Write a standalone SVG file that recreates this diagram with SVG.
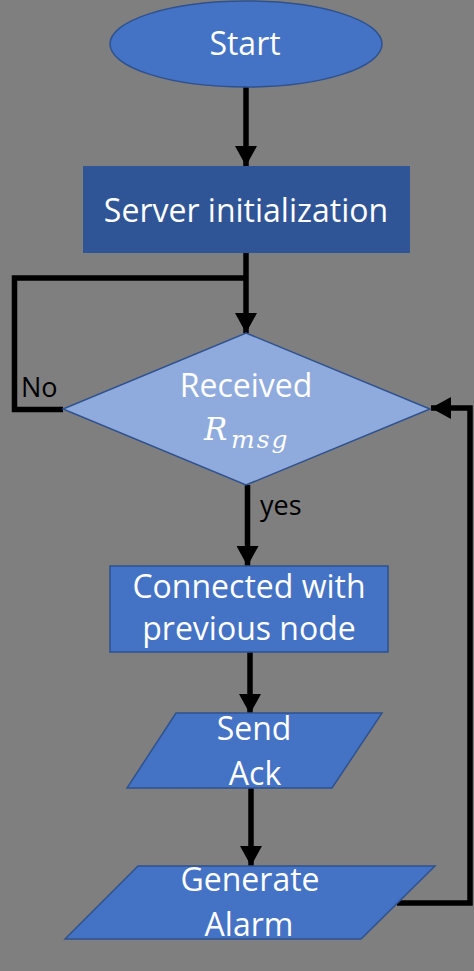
<svg xmlns="http://www.w3.org/2000/svg" width="474" height="971" viewBox="0 0 474 971">
<defs>
<style>
.bg{fill:#7f7f7f}
.node{stroke:#2f528f;stroke-width:1.5}
.lbl{font-family:"Open Sans","Liberation Sans",sans-serif;font-size:32px;fill:#ffffff;text-anchor:middle}
.edge{font-family:"Open Sans","Liberation Sans",sans-serif;font-size:27px;fill:#000000}
.math{font-family:"DejaVu Serif","Liberation Serif",serif;font-style:italic;fill:#ffffff}
.conn{fill:none;stroke:#000000;stroke-width:5.5}
</style>
<marker id="ah" markerUnits="userSpaceOnUse" markerWidth="22" markerHeight="22" refX="20" refY="11" orient="auto" viewBox="0 0 22 22">
<path d="M0,0 L20,11 L0,22 Z" fill="#000000"/>
</marker>
</defs>
<rect class="bg" x="0" y="0" width="474" height="971"/>
<g id="connectors">
<line class="conn" x1="246" y1="87" x2="246" y2="166" marker-end="url(#ah)"/>
<line class="conn" x1="246" y1="253" x2="246" y2="333" marker-end="url(#ah)"/>
<polyline class="conn" points="246,278 14.5,278 14.5,409.5 63,409.5"/>
<line class="conn" x1="247.5" y1="485" x2="247.5" y2="566" marker-end="url(#ah)"/>
<line class="conn" x1="250" y1="652" x2="250" y2="714" marker-end="url(#ah)"/>
<line class="conn" x1="251" y1="788" x2="251" y2="866" marker-end="url(#ah)"/>
<polyline class="conn" points="397,903 470,903 470,408 431,408" marker-end="url(#ah)"/>
</g>
<g id="start">
<ellipse class="node" cx="246" cy="44" rx="136" ry="43" fill="#4472c4"/>
<text class="lbl" x="245" y="55">Start</text>
</g>
<g id="server-init">
<rect x="83" y="166" width="327" height="87" fill="#2f5597"/>
<text class="lbl" x="246" y="222">Server initialization</text>
</g>
<g id="received">
<polygon class="node" points="246,333 430,409 246,485 63,409" fill="#8faadc"/>
<text class="lbl" x="246" y="397">Received</text>
<text class="math" x="204" y="440" font-size="31">R</text>
<text class="math" x="231" y="448" font-size="25" letter-spacing="2">msg</text>
</g>
<g id="connected">
<rect class="node" x="110" y="566" width="278" height="86" fill="#4472c4"/>
<text class="lbl" x="249" y="598">Connected with</text>
<text class="lbl" x="249" y="640">previous node</text>
</g>
<g id="send-ack">
<polygon class="node" points="176,713 382,713 332,788 127,788" fill="#4472c4"/>
<text class="lbl" x="254" y="740">Send</text>
<text class="lbl" x="255" y="785">Ack</text>
</g>
<g id="generate-alarm">
<polygon class="node" points="138,866 435,866 361,939 65,939" fill="#4472c4"/>
<text class="lbl" x="250" y="891">Generate</text>
<text class="lbl" x="249" y="936">Alarm</text>
</g>
<g id="edge-labels">
<text class="edge" x="21" y="397">No</text>
<text class="edge" x="260" y="515">yes</text>
</g>
</svg>
